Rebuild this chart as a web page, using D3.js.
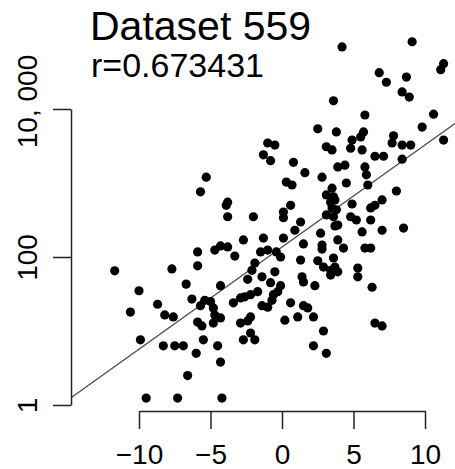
<!DOCTYPE html>
<html>
<head>
<meta charset="utf-8">
<script src="https://cdn.jsdelivr.net/npm/d3@7"></script>
<style>
  body { margin: 0; background: #fff; }
  text { font-family: "Liberation Sans", Arial, sans-serif; }
</style>
</head>
<body>
<svg width="455" height="469"></svg>
<script>
var title = 'Dataset 559';
var subtitle = 'r=0.673431';

var xTicks = [-10, -5, 0, 5, 10];
var yTicks = [1, 100, 10000];
var yTickLabels = ['1', '100', '10, 000'];

// fitted line: log10(y) = a + b * x
var fit = [2.135, 0.138];

var xs = [4.2, 9.1, 11.3, 11.1, 6.8, 7.3, 8.7, 8.4, 8.9, 3.6,
	5.8, 10.6, 9.8, 2.5, 3.8, 5.7, 5.5, 4.9, 4.8, 5.6,
	7.8, 7.7, 8.4, 9.0, 11.3, -1.0, -0.5, 3.1, 3.5, 6.5,
	7.1, 8.4, -1.3, 0.8, -0.8, 1.6, 2.8, 3.9, 4.4, 5.8,
	5.9, 6.0, 4.5, 8.0, -5.3, -5.7, 0.3, 0.7, 3.5, 3.1,
	3.6, 3.7, 3.4, 3.5, 3.8, 3.1, 3.6, 3.7, 4.9, 7.0,
	6.5, 6.2, -3.8, -3.9, -3.8, -2.0, 0.6, 0.1, 0.1, 1.3,
	4.8, 5.2, 6.2, 3.9, 0.9, 2.7, 5.6, 7.0, 8.5, -2.7,
	-1.3, 0.1, 3.9, 1.5, 2.8, 2.8, 4.3, 5.8, 6.2, -4.3,
	-3.8, -4.7, -5.9, -3.3, -1.5, -1.0, -0.4, -0.1, 1.3, 3.6,
	3.4, 2.5, 2.9, -5.9, -7.7, -11.7, -1.9, -2.1, -0.5, -1.4,
	-2.4, 3.4, 3.9, 3.7, 5.3, 5.3, 1.4, 1.5, 2.3, 6.3,
	-6.7, -4.3, -0.1, -10.0, -8.7, -10.6, -6.3, -5.7, -5.4, -5.0,
	-8.2, -7.6, -5.9, -5.6, -4.8, -4.7, -4.3, -4.8, -3.4, -2.9,
	-2.6, -2.2, -1.7, -1.4, -1.0, -0.7, -0.6, -0.3, -2.9, -2.4,
	-2.2, -2.7, -2.2, -1.9, -5.5, -9.9, -8.3, -7.5, -6.9, -6.0,
	-4.5, -4.3, -6.6, -9.5, -7.3, -4.2, 0.2, 0.6, 1.1, 1.5,
	1.8, 2.2, 2.9, 2.2, 3.1, 6.5, 7.0, -0.8];

var ys = [69000, 81000, 41000, 34000, 31000, 23000, 27000, 17000, 14500, 12900,
	8300, 8500, 5700, 5400, 4900, 4900, 4200, 3800, 2950, 2800,
	4350, 3470, 3250, 3250, 3800, 3470, 3250, 3090, 2800, 2300,
	2300, 2100, 2400, 1900, 2000, 1380, 1200, 1650, 1740, 1650,
	1290, 940, 1000, 780, 1200, 760, 1030, 940, 850, 690,
	650, 590, 550, 460, 435, 370, 350, 263, 520, 590,
	500, 460, 550, 500, 350, 350, 500, 405, 340, 297,
	350, 316, 316, 270, 230, 210, 218, 230, 246, 170,
	180, 180, 170, 150, 145, 128, 132, 132, 132, 141,
	137, 124, 117, 103, 117, 124, 117, 100, 91, 97,
	66, 89, 73, 76, 69, 65, 83, 66, 63, 54,
	50, 57, 63, 73, 71, 54, 54, 46, 41, 39,
	43, 41, 41, 35, 23, 18, 27, 22, 26, 25,
	16.5, 15.5, 13.2, 11.7, 20.5, 16.5, 15, 12.8, 24, 28,
	29, 31, 34, 22, 21, 26, 31, 34, 12.8, 13.7,
	15.5, 7.6, 9.4, 7.6, 7.6, 7.6, 6.3, 6.3, 6.3, 5.0,
	6.3, 3.8, 2.5, 1.24, 1.24, 1.24, 14, 24, 15.5, 22,
	20.5, 15.5, 10, 6.3, 5.0, 12.8, 11.7, 45];

var points = xs.map(function(d, i) { return {x: d, y: ys[i]}; });

var svg = d3.select('svg');

var x = d3.scaleLinear().domain([-10, 10]).range([139, 425]);
var y = d3.scaleLog().domain([1, 10000]).range([405, 109]);

var left = 71, bottom = 411;

svg.append('clipPath').attr('id', 'plotclip')
	.append('rect')
	.attr('x', left)
	.attr('y', 0)
	.attr('width', 455 - left)
	.attr('height', bottom);

// regression line
var x0 = x.invert(left), x1 = x.invert(455);
svg.append('line')
	.attr('clip-path', 'url(#plotclip)')
	.attr('x1', x(x0))
	.attr('y1', y(Math.pow(10, fit[0] + fit[1] * x0)))
	.attr('x2', x(x1))
	.attr('y2', y(Math.pow(10, fit[0] + fit[1] * x1)))
	.attr('stroke', '#444')
	.attr('stroke-width', 1.2);

svg.append('g')
	.selectAll('circle')
	.data(points)
	.enter().append('circle')
	.attr('cx', function(d) { return x(d.x); })
	.attr('cy', function(d) { return y(d.y); })
	.attr('r', 4.6)
	.attr('fill', '#000');

// x axis
var xAxis = svg.append('g')
	.attr('transform', 'translate(0,' + bottom + ')')
	.call(d3.axisBottom(x).tickValues(xTicks).tickSizeInner(18).tickSizeOuter(0));
xAxis.selectAll('text')
	.attr('font-size', 28)
	.attr('fill', '#000')
	.attr('font-family', '"Liberation Sans", Arial, sans-serif')
	.attr('y', 53)
	.attr('dy', 0);

// y axis
var yAxis = svg.append('g')
	.attr('transform', 'translate(' + left + ',0)')
	.call(d3.axisLeft(y).tickValues(yTicks).tickSizeInner(18).tickSizeOuter(0)
		.tickFormat(function(d, i) { return yTickLabels[i]; }));
yAxis.selectAll('text')
	.attr('font-size', 28)
	.attr('fill', '#000')
	.attr('font-family', '"Liberation Sans", Arial, sans-serif')
	.attr('text-anchor', 'middle')
	.attr('x', 0).attr('y', 0).attr('dy', 0)
	.attr('transform', function(d) { return 'translate(-34,' + (d === 10000 ? -8 : 0) + ') rotate(-90)'; });

svg.selectAll('.domain, .tick line').attr('stroke', '#222').attr('stroke-width', 1.5);

svg.append('text')
	.attr('x', 90).attr('y', 40)
	.attr('font-size', 41)
	.text(title);

svg.append('text')
	.attr('x', 91).attr('y', 77)
	.attr('font-size', 34)
	.text(subtitle);
</script>
</body>
</html>
